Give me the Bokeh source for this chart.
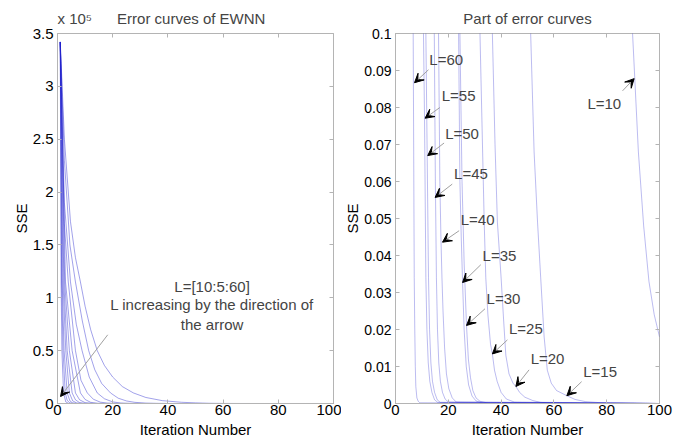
from bokeh.plotting import figure
from bokeh.layouts import row
from bokeh.models import (ColumnDataSource, Label, Arrow, VeeHead, FixedTicker,
                          NumeralTickFormatter, LinearAxis, Range1d, CustomJSTickFormatter)
from bokeh.embed import file_html
from bokeh.resources import INLINE

# ---------------- data ----------------
L_values = [10, 15, 20, 25, 30, 35, 40, 45, 50, 55, 60]

iters_L10 = [1, 2.5, 4.7, 6.5, 8.3, 10, 12, 14.4, 17, 20, 23.5, 27.5, 32, 38, 45, 50, 55, 60, 65, 70, 75, 80, 85, 89.8, 92, 94, 96, 98, 100]
sse_L10 = [342000, 250000, 172000, 138000, 115000, 92000, 70000, 50000, 36000, 25000, 16000, 10000, 5700, 2700, 1150, 600, 200, 65, 22, 7, 2.3, 0.8, 0.28, 0.1, 0.068, 0.048, 0.033, 0.024, 0.018]

iters_L15 = [1, 2.5, 4.5, 6.5, 9, 11.3, 13.5, 16, 19.2, 22, 25, 28, 32, 36, 40, 44, 48, 51.2, 52.5, 53.8, 55, 56.3, 57.5, 59, 61, 64.9, 68, 72, 80, 100]
sse_L15 = [342000, 230000, 150000, 115000, 78000, 50000, 32000, 19000, 10000, 5000, 2400, 1100, 380, 120, 35, 8, 1.2, 0.1, 0.068, 0.049, 0.034, 0.018, 0.009, 0.0055, 0.0035, 0.0021, 0.0011, 0.0005, 0.0001, 0]

iters_L20 = [1, 2.5, 4.7, 6.8, 8.9, 11.5, 14.4, 17, 20, 23, 27, 31, 34, 36.7, 37.7, 38.6, 40, 41, 41.8, 43, 44.5, 45.6, 47, 49, 52, 55, 60, 100]
sse_L20 = [342000, 190000, 115000, 75000, 50000, 25000, 10000, 4500, 1500, 420, 60, 6, 0.8, 0.1, 0.07, 0.049, 0.034, 0.022, 0.013, 0.008, 0.0055, 0.0046, 0.003, 0.0017, 0.0008, 0.0003, 0.0001, 0]

iters_L25 = [1, 2.5, 3.9, 6.5, 8.5, 10.8, 13, 15.5, 18, 21, 25, 29, 32, 33.6, 34.2, 35, 36, 36.7, 37.5, 38.5, 40, 42, 45, 100]
sse_L25 = [342000, 170000, 115000, 50000, 22000, 10000, 4000, 1300, 380, 80, 8, 0.8, 0.1, 0.049, 0.034, 0.024, 0.016, 0.0134, 0.009, 0.006, 0.003, 0.0012, 0.0004, 0]

iters_L30 = [1, 2.9, 5.3, 8.3, 10, 12, 14.5, 17, 20, 22.5, 24.4, 25.2, 26, 26.9, 27.6, 28.4, 29.3, 30.5, 32, 35, 100]
sse_L30 = [342000, 115000, 50000, 10000, 3800, 1100, 200, 30, 2.5, 0.4, 0.1, 0.06, 0.038, 0.021, 0.012, 0.007, 0.0035, 0.0015, 0.0006, 0.0001, 0]

iters_L35 = [1, 2.6, 4.3, 6.5, 8, 10, 12.5, 15, 18, 21, 23.9, 24.4, 24.9, 25.4, 26, 26.8, 27.7, 29, 30.5, 33, 100]
sse_L35 = [342000, 115000, 50000, 10000, 3500, 800, 100, 12, 1, 0.3, 0.1, 0.06, 0.045, 0.033, 0.02, 0.01, 0.005, 0.002, 0.0007, 0.0001, 0]

iters_L40 = [1, 2.3, 3.5, 5.3, 6.5, 8, 10, 12, 14.5, 16.3, 16.8, 17.2, 17.6, 18, 18.6, 19.3, 20.2, 21.5, 23, 100]
sse_L40 = [342000, 115000, 50000, 10000, 3500, 800, 100, 10, 0.7, 0.1, 0.06, 0.045, 0.034, 0.025, 0.015, 0.008, 0.004, 0.0015, 0.0004, 0]

iters_L45 = [1, 2.0, 3.0, 4.3, 5.5, 7, 9, 11, 13, 14.7, 15.1, 15.5, 15.9, 16.4, 17, 17.8, 18.8, 20, 100]
sse_L45 = [342000, 115000, 50000, 10000, 2500, 400, 35, 3, 0.4, 0.1, 0.06, 0.034, 0.02, 0.011, 0.006, 0.003, 0.0012, 0.0004, 0]

iters_L50 = [1, 1.7, 2.4, 3.5, 4.5, 5.5, 7, 9, 11.5, 12, 12.5, 12.9, 13.4, 14, 14.8, 15.8, 17, 100]
sse_L50 = [342000, 115000, 50000, 10000, 2500, 500, 40, 1.5, 0.1, 0.067, 0.034, 0.02, 0.011, 0.006, 0.003, 0.001, 0.0003, 0]

iters_L55 = [1, 1.5, 2.0, 2.8, 3.5, 4.5, 6, 8, 10.6, 11, 11.5, 11.9, 12.4, 13, 13.8, 14.8, 16, 100]
sse_L55 = [342000, 115000, 50000, 10000, 3000, 500, 30, 1, 0.1, 0.077, 0.034, 0.02, 0.011, 0.006, 0.003, 0.001, 0.0003, 0]

iters_L60 = [1, 1.3, 1.6, 2.2, 3, 4, 5, 6, 6.7, 6.85, 7.0, 7.1, 7.3, 7.5, 7.7, 8.1, 8.6, 9.2, 100]
sse_L60 = [342000, 115000, 50000, 10000, 1500, 120, 8, 0.6, 0.1, 0.075, 0.05, 0.034, 0.02, 0.01, 0.0046, 0.0015, 0.0006, 0.0002, 0]

curves = {
    10: (iters_L10, sse_L10), 15: (iters_L15, sse_L15), 20: (iters_L20, sse_L20),
    25: (iters_L25, sse_L25), 30: (iters_L30, sse_L30), 35: (iters_L35, sse_L35),
    40: (iters_L40, sse_L40), 45: (iters_L45, sse_L45), 50: (iters_L50, sse_L50),
    55: (iters_L55, sse_L55), 60: (iters_L60, sse_L60),
}

left_scale = 1e5
left_y_ticks = [0, 0.5, 1, 1.5, 2, 2.5, 3, 3.5]
x_ticks = [0, 20, 40, 60, 80, 100]
right_y_ticks = [0, 0.01, 0.02, 0.03, 0.04, 0.05, 0.06, 0.07, 0.08, 0.09, 0.1]

left_title = "Error curves of EWNN"
left_exponent = "x 10\u2075"
right_title = "Part of error curves"

# right-plot annotations
ann_text = ["L=60", "L=55", "L=50", "L=45", "L=40", "L=35", "L=30", "L=25", "L=20", "L=15", "L=10"]
ann_tx = [12.8, 17.5, 18.8, 22.2, 24.7, 33.0, 34.5, 43.0, 51.2, 71.1, 72.7]
ann_ty = [0.0929, 0.0832, 0.0730, 0.0621, 0.0496, 0.0399, 0.0284, 0.0204, 0.0121, 0.0086, 0.0812]
arr_x0 = [12.5, 16.8, 18.4, 21.5, 24.1, 32.3, 33.9, 42.4, 50.6, 70.5, 86.0]
arr_y0 = [0.0902, 0.0800, 0.0704, 0.0593, 0.0467, 0.0375, 0.0256, 0.0172, 0.0091, 0.0059, 0.0845]
arr_x1 = [7.2, 11.2, 12.2, 15.0, 17.8, 25.4, 26.9, 36.7, 45.6, 64.9, 90.4]
arr_y1 = [0.0867, 0.0771, 0.0670, 0.0557, 0.0436, 0.0327, 0.0211, 0.0134, 0.0046, 0.0021, 0.0878]

# left-plot annotation
left_note = ["L=[10:5:60]", "L increasing by the direction of", "the arrow"]
left_note_x = 56.0
left_note_y = [1.107, 0.934, 0.75]
left_arrow = (18.2, 0.65, 1.1, 0.066)

# ---------------- styling ----------------
FONT = "Liberation Sans"
FS = "15px"
BOX = "#b4b4b4"
LINE = "#2222cc"
EMPTY = CustomJSTickFormatter(code="return ''")


def style(p, xt, yt, yfmt, ylabel, yfs):
    p.outline_line_color = BOX
    p.xgrid.visible = False
    p.ygrid.visible = False
    for ax in (p.xaxis[0], p.yaxis[0]):
        ax.axis_line_color = BOX
        ax.major_tick_line_color = BOX
        ax.major_tick_in = 4
        ax.major_tick_out = 0
        ax.minor_tick_line_color = None
        ax.major_label_text_font = FONT
        ax.major_label_text_font_size = FS
        ax.major_label_text_color = "black"
        ax.axis_label_text_font = FONT
        ax.axis_label_text_font_size = FS
        ax.axis_label_text_font_style = "normal"
        ax.axis_label_text_color = "black"
    p.yaxis[0].major_label_text_font_size = yfs
    p.xaxis[0].ticker = FixedTicker(ticks=xt)
    p.yaxis[0].ticker = FixedTicker(ticks=yt)
    p.yaxis[0].formatter = NumeralTickFormatter(format=yfmt)
    p.xaxis[0].axis_label = "Iteration Number"
    p.yaxis[0].axis_label = ylabel
    p.xaxis[0].major_label_standoff = 1
    p.xaxis[0].axis_label_standoff = 3
    p.yaxis[0].major_label_standoff = 4
    p.yaxis[0].axis_label_standoff = 0
    top = LinearAxis(ticker=FixedTicker(ticks=xt), formatter=EMPTY,
                     major_label_text_font_size="0px",
                     major_label_standoff=0, major_tick_in=4, major_tick_out=0,
                     minor_tick_line_color=None, axis_line_color=None,
                     major_tick_line_color=BOX)
    right = LinearAxis(ticker=FixedTicker(ticks=yt), formatter=EMPTY,
                       major_label_text_font_size="0px",
                       major_label_standoff=0, major_tick_in=4, major_tick_out=0,
                       minor_tick_line_color=None, axis_line_color=None,
                       major_tick_line_color=BOX)
    p.add_layout(top, "above")
    p.add_layout(right, "right")
    p.title.text_font = FONT
    p.title.text_font_size = FS
    p.title.text_font_style = "normal"
    p.title.standoff = 14


# ---------------- left figure ----------------
p1 = figure(frame_width=276, frame_height=370, x_range=Range1d(0, 100), y_range=Range1d(0, 3.5),
            output_backend="svg", toolbar_location=None,
            title=left_exponent + "\u00a0" * 6 + left_title,
            min_border_left=57, min_border_right=8, min_border_top=32, min_border_bottom=44)
style(p1, x_ticks, left_y_ticks, "0.[0]", "SSE", FS)
p1.title.align = "left"
for L in L_values:
    it, s = curves[L]
    src = ColumnDataSource(dict(x=it, y=[v / left_scale for v in s]))
    p1.line("x", "y", source=src, line_color=LINE, line_alpha=0.42, line_width=1)

for t, yy in zip(left_note, left_note_y):
    p1.add_layout(Label(x=left_note_x, y=yy, text=t, text_font=FONT, text_font_size=FS,
                        text_align="center", text_baseline="middle"))
ax0, ay0, ax1, ay1 = left_arrow
p1.add_layout(Arrow(end=VeeHead(size=9, fill_color="black", line_color="black"),
                    x_start=ax0, y_start=ay0, x_end=ax1, y_end=ay1,
                    line_color="#a0a0a0", line_width=1))

# ---------------- right figure ----------------
p2 = figure(frame_width=264, frame_height=370, x_range=Range1d(0, 100), y_range=Range1d(0, 0.1),
            output_backend="svg", toolbar_location=None, title=right_title,
            min_border_left=52, min_border_right=30, min_border_top=32, min_border_bottom=44)
style(p2, x_ticks, right_y_ticks, "0.[00]", "SSE", "14px")
p2.title.align = "center"
for L in L_values:
    it, s = curves[L]
    src = ColumnDataSource(dict(x=it, y=s))
    p2.line("x", "y", source=src, line_color=LINE, line_alpha=0.3, line_width=1)

for i in range(len(ann_text)):
    p2.add_layout(Label(x=ann_tx[i], y=ann_ty[i], text=ann_text[i], text_font=FONT,
                        text_font_size=FS, text_align="left", text_baseline="middle"))
    p2.add_layout(Arrow(end=VeeHead(size=9, fill_color="black", line_color="black"),
                        x_start=arr_x0[i], y_start=arr_y0[i], x_end=arr_x1[i], y_end=arr_y1[i],
                        line_color="#a0a0a0", line_width=1))

layout = row(p1, p2, spacing=0)
open("out.html", "w").write(file_html(layout, INLINE))
